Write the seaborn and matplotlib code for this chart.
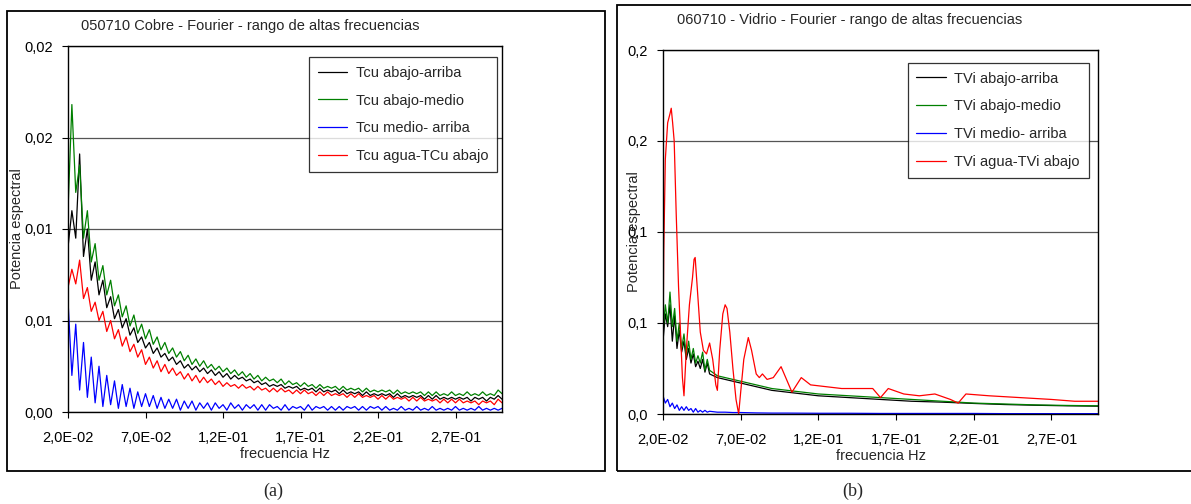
import matplotlib
matplotlib.use("Agg")
from decimal import Decimal, ROUND_HALF_UP
import matplotlib.pyplot as plt
from matplotlib.patches import Rectangle
from matplotlib.ticker import FuncFormatter, MultipleLocator
import numpy as np
import seaborn as sns

# ---------------------------------------------------------------------------
# datos
# ---------------------------------------------------------------------------
# panel (a): rejilla de frecuencia cada 0.0025 Hz, de 0.02 a 0.30
frec_a = np.round(np.arange(0.02, 0.30001, 0.0025), 4)

cu_abajo_arriba = [
    0.0090, 0.0110, 0.0095, 0.0141, 0.0085, 0.0100, 0.0072, 0.0082, 0.0064, 0.0072,
    0.0057, 0.0063, 0.0051, 0.0056, 0.0046, 0.0051, 0.0042, 0.0046, 0.0038, 0.0041,
    0.0035, 0.0038, 0.0032, 0.0035, 0.0030, 0.0032, 0.0028, 0.0030, 0.0026, 0.0028,
    0.0024, 0.0026, 0.0023, 0.0025, 0.0022, 0.0024, 0.0021, 0.0023, 0.0020, 0.0022,
    0.0019, 0.0021, 0.0018, 0.0020, 0.0018, 0.0019, 0.0017, 0.0018, 0.0016, 0.0017,
    0.0015, 0.0016, 0.0014, 0.0015, 0.0014, 0.0015, 0.0013, 0.0014, 0.0013, 0.0014,
    0.0012, 0.0013, 0.0012, 0.0013, 0.0011, 0.0013, 0.0011, 0.0012, 0.0011, 0.0012,
    0.0010, 0.0012, 0.0010, 0.0011, 0.0010, 0.0011, 0.0009, 0.0011, 0.0009, 0.0010,
    0.0009, 0.0010, 0.0009, 0.0010, 0.0008, 0.0010, 0.0008, 0.0009, 0.0008, 0.0009,
    0.0008, 0.0009, 0.0007, 0.0009, 0.0007, 0.0009, 0.0007, 0.0008, 0.0007, 0.0008,
    0.0007, 0.0008, 0.0007, 0.0008, 0.0006, 0.0008, 0.0007, 0.0008, 0.0006, 0.0008,
    0.0007, 0.0009, 0.0007]
cu_abajo_medio = [
    0.0110, 0.0168, 0.0120, 0.0135, 0.0095, 0.0110, 0.0082, 0.0092, 0.0072, 0.0080,
    0.0064, 0.0072, 0.0058, 0.0064, 0.0052, 0.0058, 0.0047, 0.0053, 0.0043, 0.0048,
    0.0040, 0.0045, 0.0037, 0.0041, 0.0034, 0.0038, 0.0032, 0.0035, 0.0030, 0.0033,
    0.0028, 0.0031, 0.0026, 0.0029, 0.0025, 0.0028, 0.0024, 0.0026, 0.0023, 0.0025,
    0.0022, 0.0024, 0.0021, 0.0023, 0.0020, 0.0022, 0.0019, 0.0021, 0.0018, 0.0020,
    0.0017, 0.0019, 0.0017, 0.0018, 0.0016, 0.0018, 0.0015, 0.0017, 0.0015, 0.0016,
    0.0014, 0.0016, 0.0014, 0.0015, 0.0013, 0.0015, 0.0013, 0.0014, 0.0013, 0.0014,
    0.0012, 0.0014, 0.0012, 0.0013, 0.0012, 0.0013, 0.0011, 0.0013, 0.0011, 0.0012,
    0.0011, 0.0012, 0.0011, 0.0012, 0.0010, 0.0012, 0.0010, 0.0011, 0.0010, 0.0011,
    0.0010, 0.0011, 0.0009, 0.0011, 0.0009, 0.0011, 0.0009, 0.0010, 0.0009, 0.0011,
    0.0009, 0.0010, 0.0009, 0.0011, 0.0009, 0.0010, 0.0009, 0.0011, 0.0009, 0.0010,
    0.0009, 0.0012, 0.0010]
cu_medio_arriba = [
    0.0061, 0.0020, 0.0048, 0.0012, 0.0038, 0.0008, 0.0030, 0.0005, 0.0025, 0.0003,
    0.0020, 0.0004, 0.0017, 0.0002, 0.0015, 0.0003, 0.0013, 0.0002, 0.0011, 0.0003,
    0.0010, 0.0003, 0.0009, 0.0002, 0.0008, 0.0002, 0.0007, 0.0002, 0.0007, 0.0001,
    0.0006, 0.0002, 0.0006, 0.0001, 0.0005, 0.0002, 0.0005, 0.0001, 0.0005, 0.0002,
    0.0004, 0.0001, 0.0005, 0.0002, 0.0004, 0.0001, 0.0004, 0.0002, 0.0004, 0.0001,
    0.0004, 0.0001, 0.0004, 0.0002, 0.0003, 0.0001, 0.0004, 0.0001, 0.0003, 0.0002,
    0.0003, 0.0001, 0.0004, 0.0001, 0.0003, 0.0002, 0.0003, 0.0001, 0.0003, 0.0001,
    0.0003, 0.0001, 0.0003, 0.0002, 0.0003, 0.0001, 0.0003, 0.0001, 0.0003, 0.0002,
    0.0003, 0.0001, 0.0003, 0.0001, 0.0002, 0.0001, 0.0003, 0.0001, 0.0002, 0.0001,
    0.0003, 0.0001, 0.0002, 0.0001, 0.0003, 0.0001, 0.0002, 0.0001, 0.0002, 0.0001,
    0.0003, 0.0001, 0.0002, 0.0001, 0.0002, 0.0001, 0.0003, 0.0001, 0.0002, 0.0001,
    0.0002, 0.0001, 0.0002]
cu_agua_abajo = [
    0.0068, 0.0078, 0.0070, 0.0083, 0.0062, 0.0068, 0.0055, 0.0060, 0.0050, 0.0055,
    0.0044, 0.0050, 0.0040, 0.0045, 0.0036, 0.0041, 0.0033, 0.0037, 0.0030, 0.0034,
    0.0026, 0.0030, 0.0024, 0.0028, 0.0022, 0.0026, 0.0021, 0.0024, 0.0020, 0.0022,
    0.0018, 0.0021, 0.0017, 0.0020, 0.0016, 0.0019, 0.0016, 0.0018, 0.0015, 0.0017,
    0.0014, 0.0016, 0.0014, 0.0015, 0.0013, 0.0015, 0.0013, 0.0014, 0.0012, 0.0014,
    0.0012, 0.0013, 0.0011, 0.0013, 0.0011, 0.0013, 0.0011, 0.0012, 0.0010, 0.0012,
    0.0010, 0.0012, 0.0010, 0.0011, 0.0009, 0.0011, 0.0009, 0.0011, 0.0009, 0.0010,
    0.0009, 0.0010, 0.0008, 0.0010, 0.0008, 0.0010, 0.0008, 0.0009, 0.0008, 0.0009,
    0.0007, 0.0009, 0.0007, 0.0009, 0.0007, 0.0008, 0.0007, 0.0008, 0.0006, 0.0008,
    0.0006, 0.0008, 0.0006, 0.0007, 0.0006, 0.0007, 0.0005, 0.0007, 0.0005, 0.0007,
    0.0005, 0.0007, 0.0005, 0.0006, 0.0005, 0.0006, 0.0004, 0.0006, 0.0005, 0.0006,
    0.0004, 0.0007, 0.0005]

# panel (b)
frec_b = [0.0200, 0.0215, 0.0230, 0.0245, 0.0260, 0.0275, 0.0290, 0.0305, 0.0320,
          0.0335, 0.0350, 0.0365, 0.0380, 0.0395, 0.0410, 0.0425, 0.0440, 0.0455,
          0.0470, 0.0485, 0.0500, 0.0550, 0.0600, 0.0650, 0.0700, 0.0800, 0.0900,
          0.1000, 0.1200, 0.1400, 0.1600, 0.1800, 0.2000, 0.2200, 0.2400, 0.2600,
          0.2800, 0.3000]
vi_abajo_arriba = [0.040, 0.055, 0.048, 0.060, 0.040, 0.054, 0.036, 0.046, 0.034,
                   0.040, 0.030, 0.036, 0.028, 0.033, 0.026, 0.029, 0.025, 0.030,
                   0.023, 0.028, 0.022, 0.020, 0.019, 0.018, 0.017, 0.015, 0.013,
                   0.012, 0.010, 0.009, 0.008, 0.007, 0.0065, 0.0058, 0.0052,
                   0.0048, 0.0045, 0.0043]
vi_abajo_medio = [0.045, 0.060, 0.050, 0.067, 0.048, 0.058, 0.040, 0.050, 0.036,
                  0.044, 0.032, 0.040, 0.030, 0.036, 0.028, 0.032, 0.028, 0.034,
                  0.024, 0.030, 0.024, 0.021, 0.020, 0.019, 0.018, 0.016, 0.014,
                  0.013, 0.011, 0.010, 0.009, 0.008, 0.007, 0.006, 0.0055, 0.005,
                  0.0047, 0.0045]
vi_medio_arriba = [0.010, 0.006, 0.008, 0.004, 0.006, 0.003, 0.005, 0.002, 0.004,
                   0.002, 0.004, 0.002, 0.003, 0.001, 0.003, 0.001, 0.002, 0.001,
                   0.002, 0.001, 0.0015, 0.001, 0.001, 0.0008, 0.0008, 0.0006,
                   0.0005, 0.0005, 0.0004, 0.0004, 0.0003, 0.0003, 0.0003, 0.0003,
                   0.0002, 0.0002, 0.0002, 0.0002]
frec_b_agua = [0.0200, 0.0205, 0.0215, 0.0230, 0.0245, 0.0253, 0.0262, 0.0272, 0.0285, 0.0300,
               0.0315, 0.0325, 0.0335, 0.0350, 0.0370, 0.0390, 0.0400, 0.0407, 0.0420, 0.0440,
               0.0460, 0.0480, 0.0500, 0.0520, 0.0540, 0.0550, 0.0565, 0.0585, 0.0600, 0.0612,
               0.0630, 0.0650, 0.0670, 0.0687, 0.0700, 0.0720, 0.0749, 0.0770, 0.0800, 0.0820,
               0.0840, 0.0870, 0.0910, 0.0960, 0.1000, 0.1030, 0.1090, 0.1150, 0.1250, 0.1350,
               0.1450, 0.1550, 0.1600, 0.1650, 0.1750, 0.1850, 0.1950, 0.2050, 0.2100, 0.2150,
               0.2300, 0.2500, 0.2700, 0.2850, 0.3000]
vi_agua_abajo = [0.040, 0.090, 0.140, 0.160, 0.165, 0.168, 0.160, 0.150, 0.110, 0.070,
                 0.040, 0.020, 0.010, 0.035, 0.060, 0.075, 0.085, 0.086, 0.070, 0.045,
                 0.035, 0.033, 0.039, 0.030, 0.016, 0.013, 0.035, 0.055, 0.060, 0.058,
                 0.045, 0.025, 0.008, 0.000, 0.012, 0.030, 0.042, 0.035, 0.022, 0.020,
                 0.022, 0.019, 0.020, 0.026, 0.018, 0.012, 0.020, 0.016, 0.015, 0.014,
                 0.014, 0.014, 0.009, 0.014, 0.011, 0.010, 0.011, 0.008, 0.006, 0.011,
                 0.010, 0.009, 0.008, 0.007, 0.007]

COLORES = ["#000000", "#008000", "#0000FF", "#FF0000"]

sns.set_style("white")
plt.rcParams["font.family"] = ["Liberation Sans", "DejaVu Sans"]

W, H = 1191, 504
fig = plt.figure(figsize=(W / 100, H / 100), dpi=100)


def redondeo(v, dec):
    # redondeo "a la Excel" (mitad hacia arriba) con coma decimal
    q = Decimal(1).scaleb(-dec)
    txt = str(Decimal(str(round(float(v), 10))).quantize(q, rounding=ROUND_HALF_UP))
    return txt.replace(".", ",")


def caja(x0, y0, x1, y1):
    fig.patches.append(Rectangle((x0 / W, 1 - y1 / H), (x1 - x0) / W,
                                 (y1 - y0) / H, transform=fig.transFigure,
                                 fill=False, edgecolor="black", linewidth=1.3))


def panel(rect, series, ydec, ymax, titulo, tit_xy, leyenda_bb, ypad):
    x0, y0, x1, y1 = rect
    ax = fig.add_axes([x0 / W, 1 - y1 / H, (x1 - x0) / W, (y1 - y0) / H])
    for (x, y, nombre), c in zip(series, COLORES):
        sns.lineplot(x=x, y=y, ax=ax, color=c, linewidth=0.9, label=nombre)
    ax.set_xlim(0.02, 0.30)
    ax.set_ylim(0, ymax)
    ax.set_xticks(np.arange(0.02, 0.30, 0.05))
    ax.yaxis.set_major_locator(MultipleLocator(ymax / 4))
    ax.xaxis.set_major_formatter(FuncFormatter(
        lambda v, p: f"{v:.1E}".replace(".", ",")))
    ax.yaxis.set_major_formatter(FuncFormatter(
        lambda v, p: redondeo(v, ydec)))
    ax.grid(axis="y", color="#555555", linewidth=0.9)
    ax.tick_params(labelsize=10.5, length=4, width=0.8, colors="black",
                   direction="out", bottom=True, left=True)
    ax.tick_params(axis="x", pad=10)
    ax.tick_params(axis="y", pad=7)
    for s in ax.spines.values():
        s.set_color("black")
        s.set_linewidth(1.0)
    ax.set_xlabel("frecuencia Hz", fontsize=10.5, labelpad=1)
    ax.set_ylabel("Potencia espectral", fontsize=10.5, labelpad=ypad)
    leg = ax.legend(loc="upper right", bbox_to_anchor=leyenda_bb, fontsize=10.5,
                    frameon=True, fancybox=False, handlelength=2.0,
                    labelspacing=0.95, borderpad=0.6, handletextpad=0.6)
    leg.get_frame().set_edgecolor("black")
    leg.get_frame().set_linewidth(0.9)
    fig.text(tit_xy[0] / W, 1 - tit_xy[1] / H, titulo, ha="center",
             va="center", fontsize=10.5)
    return ax


caja(7, 11, 605, 471)
caja(617, 5, 1200, 471)

panel((68, 46, 502, 412),
      [(frec_a, cu_abajo_arriba, "Tcu abajo-arriba"),
       (frec_a, cu_abajo_medio, "Tcu abajo-medio"),
       (frec_a, cu_medio_arriba, "Tcu medio- arriba"),
       (frec_a, cu_agua_abajo, "Tcu agua-TCu abajo")],
      2, 0.02, "050710 Cobre - Fourier - rango de altas frecuencias",
      (250, 26), (1.005, 0.99), 0)

panel((663, 50, 1098, 414),
      [(frec_b, vi_abajo_arriba, "TVi abajo-arriba"),
       (frec_b, vi_abajo_medio, "TVi abajo-medio"),
       (frec_b, vi_medio_arriba, "TVi medio- arriba"),
       (frec_b_agua, vi_agua_abajo, "TVi agua-TVi abajo")],
      1, 0.2, "060710 - Vidrio - Fourier - rango de altas frecuencias",
      (850, 20), (0.995, 0.985), -10)

fig.text(273 / W, 1 - 491 / H, "(a)", ha="center", va="center",
         fontsize=13, family="Liberation Serif")
fig.text(853 / W, 1 - 491 / H, "(b)", ha="center", va="center",
         fontsize=13, family="Liberation Serif")

fig.savefig("out.png", dpi=100)
